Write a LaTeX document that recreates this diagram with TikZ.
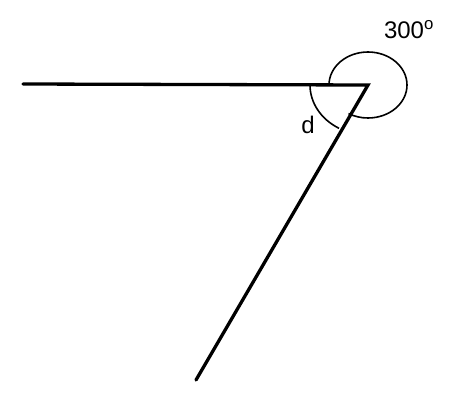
\documentclass[tikz,border=0pt]{standalone}
\usepackage{fontspec}
\setmainfont{Liberation Sans}
\usetikzlibrary{calc}
\tikzset{ray/.style={line width=3.3pt, line cap=round},
  anglearc/.style={line width=1.6pt},
  anglelabel/.style={font=\fontsize{24pt}{26pt}\selectfont, inner sep=0pt}}

\begin{document}
\begin{tikzpicture}[x=1pt, y=-1pt]
    \useasboundingbox (0,0) rectangle (450,415);

    % Points: ends & vertex
    \coordinate (leftend) at (23,84);
    \coordinate (vertex) at (368,85);
    \coordinate (lowend) at (196,380);

    % Rays
    \draw[ray] (leftend) -- (vertex) -- (lowend);

    % Arcs: inner & outer angle
    \draw[anglearc] ([xshift=-58pt]vertex) arc[start angle=180, end angle=240, x radius=58pt, y radius=50pt];
    \draw[anglearc] ([xshift=-39pt]vertex) arc[start angle=180, end angle=-120, x radius=39pt, y radius=33pt];

    % Labels: angles
    \node[anglelabel] (outerlabel) at (409,30) {300\textsuperscript{o}};
    \node[anglelabel] (innerlabel) at (308,125) {d};

\end{tikzpicture}
\end{document}
